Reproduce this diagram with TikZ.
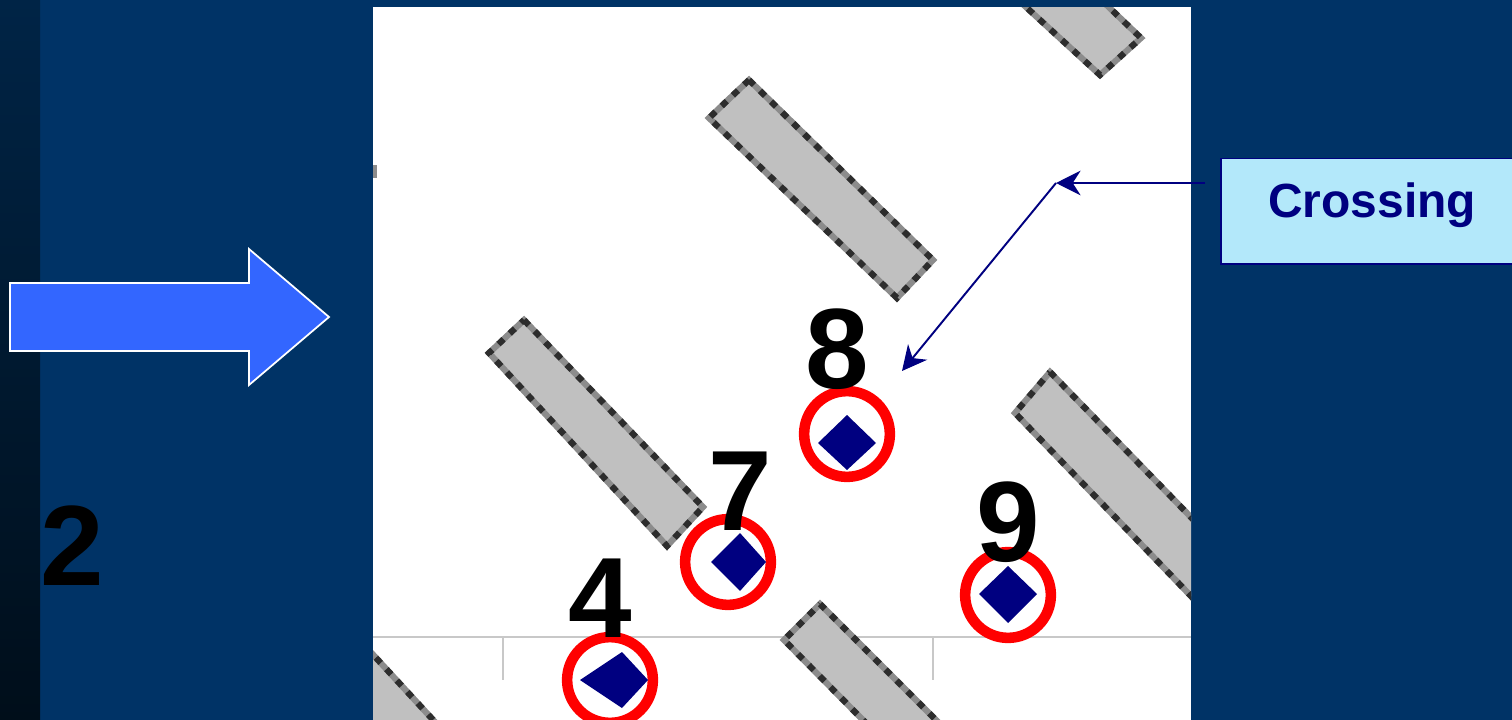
\documentclass[tikz,border=0pt]{standalone}
\usepackage{fontspec}
\setmainfont{Liberation Sans}
\usetikzlibrary{arrows.meta}

\definecolor{slidebg}{RGB}{0,51,102}
\definecolor{stripTop}{RGB}{0,36,70}
\definecolor{stripBot}{RGB}{0,14,26}
\definecolor{barfill}{RGB}{192,192,192}
\definecolor{baredge}{RGB}{140,140,140}
\definecolor{bardark}{RGB}{45,45,45}
\definecolor{marknavy}{RGB}{0,0,128}
\definecolor{boxcyan}{RGB}{179,232,250}
\definecolor{arrowblue}{RGB}{51,102,255}
\definecolor{gridgray}{RGB}{200,200,200}

\tikzset{
  bar/.style={fill=barfill, draw=baredge, line width=3.5pt, line join=miter},
  barpix/.style={draw=bardark, line width=3.5pt, dash pattern=on 4pt off 4.8pt},
  ring/.style={circle, draw=red, line width=6pt, minimum size=48.8pt, inner sep=0pt},
  crossmark/.style={fill=marknavy},
  digit/.style={anchor=base, inner sep=0pt, font=\bfseries\fontsize{65}{65}\selectfont},
  crossbox/.style={anchor=base, fill=boxcyan, draw=marknavy, line width=0.9pt,
    inner sep=0pt, text=marknavy, minimum width=172pt,
    text height=33.4pt, text depth=26.6pt,
    font=\bfseries\fontsize{27.3}{27.3}\selectfont},
  callout/.style={draw=marknavy, line width=1.1pt,
    -{Stealth[length=14pt, width=14pt, inset=4.5pt]}},
  bigarrow/.style={fill=arrowblue, draw=white, line width=1pt, line join=miter}
}

\begin{document}
\begin{tikzpicture}[x=0.02cm, y=-0.02cm]
    \useasboundingbox (0,0) rectangle (1512,720);
    % slide background
    \fill[slidebg] (0,0) rectangle (1512,720);
    \shade[top color=stripTop, bottom color=stripBot] (0,0) rectangle (40,720);
    % white panel with the grid line
    \fill[white] (373,7) rectangle (1191,720);
    \draw[gridgray, line width=0.8pt] (373,637) -- (1191,637);
    \draw[gridgray, line width=0.8pt] (503,637) -- (503,680);
    \draw[gridgray, line width=0.8pt] (933,637) -- (933,680);
    % gray bars, cut at the panel edges
    \begin{scope}
    \clip (373,7) rectangle (1191,720);
    \foreach \p in {%
        {(749,80) -- (933,260) -- (897,298) -- (709,118) -- cycle},
        {(524,320) -- (703,507) -- (667,546) -- (489,353) -- cycle},
        {(1050,372) -- (1250,578) -- (1213,619) -- (1015,413) -- cycle},
        {(820,604) -- (970,754) -- (932,790) -- (784,640) -- cycle},
        {(355,635) -- (470,760) -- (430,800) -- (315,675) -- cycle},
        {(1068,-32) -- (1141,38) -- (1100,75) -- (990,-26) -- cycle}}
    {
        \path[bar] \p;
        \path[barpix] \p;
    }
    \fill[baredge] (373,165) rectangle (377,178);
    \end{scope}
    % circled crossings
    \node (c8) at (847,434) [ring] {};
    \node (c7) at (728,562) [ring] {};
    \node (c9) at (1008,595) [ring] {};
    \node (c4) at (610,680) [ring] {};
    \fill[crossmark] (847,415) -- (876,443) -- (847,470) -- (818,443) -- cycle;
    \fill[crossmark] (740,533) -- (766,562) -- (740,591) -- (711,562) -- cycle;
    \fill[crossmark] (1008,566) -- (1037,594) -- (1008,623) -- (979,594) -- cycle;
    \fill[crossmark] (622,652) -- (648,680) -- (622,708) -- (580,680) -- cycle;
    % labels
    \node (n8) at (837,388) [digit] {8};
    \node (n7) at (740,530) [digit] {7};
    \node (n9) at (1008,561) [digit] {9};
    \node (n4) at (600,637) [digit] {4};
    \node (n2) at (72,585) [digit] {2};
    % callout
    \node (crossing) at (1372,217) [crossbox] {Crossing};
    \coordinate (lead) at (1205,183);
    \coordinate (bend) at (1056,183);
    \coordinate (spot) at (902,371);
    \draw[callout] (lead) -- (bend);
    \draw[callout] (bend) -- (spot);
    % big arrow
    \draw[bigarrow] (10,283) -- (249,283) -- (249,249) -- (329,317)
        -- (249,385) -- (249,351) -- (10,351) -- cycle;
\end{tikzpicture}
\end{document}
